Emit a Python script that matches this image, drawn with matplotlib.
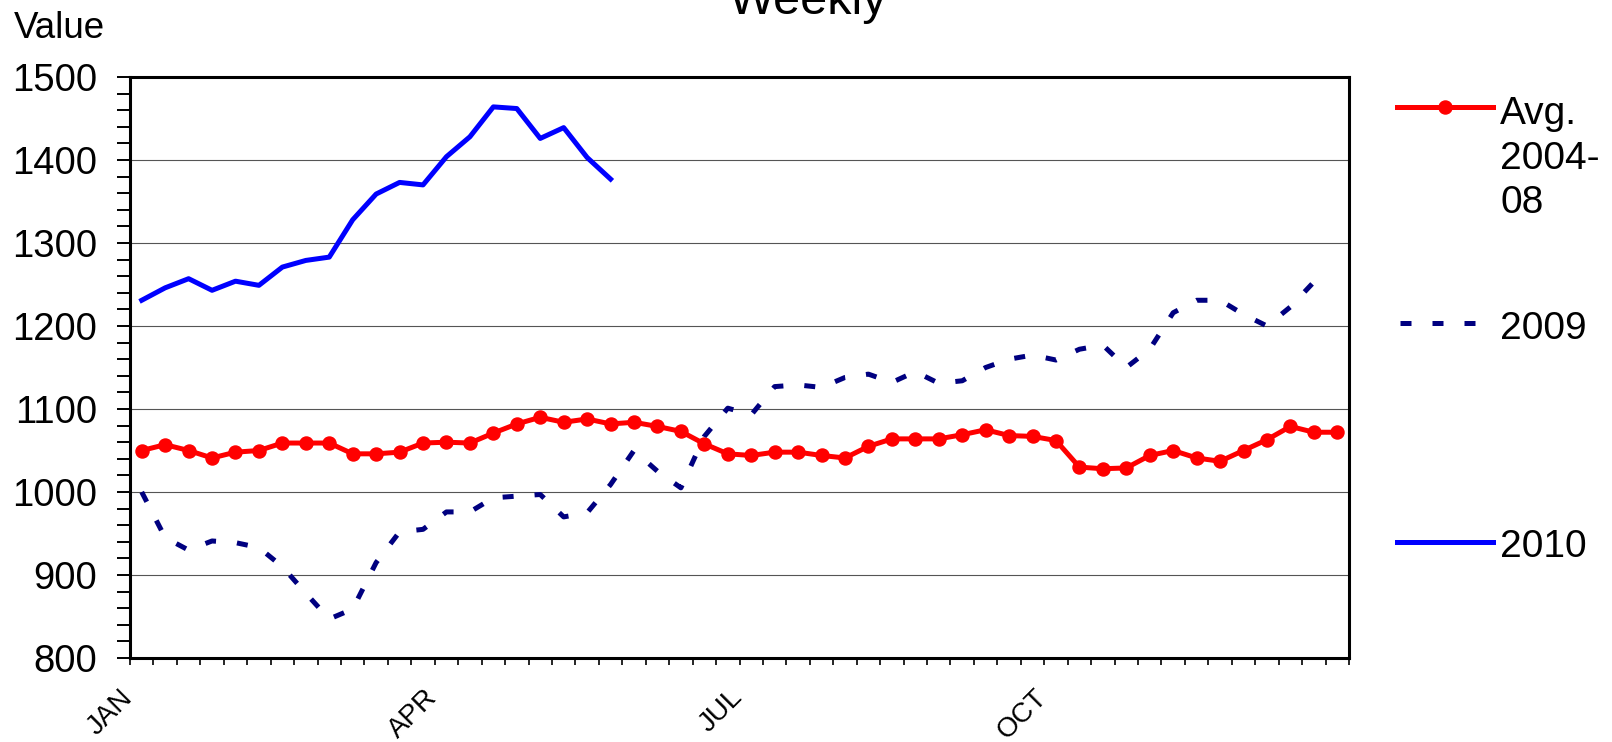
import matplotlib
matplotlib.use("Agg")
import matplotlib.pyplot as plt
import matplotlib.transforms as mtransforms
from matplotlib.lines import Line2D
import numpy as np

plt.rcParams['font.family'] = ['Liberation Sans', 'DejaVu Sans']

# weekly values, week 1..52
avg_0408 = [1050, 1057, 1050, 1041, 1048, 1050, 1059, 1059, 1059, 1046,
            1046, 1048, 1059, 1060, 1059, 1071, 1082, 1090, 1084, 1088,
            1082, 1084, 1079, 1073, 1058, 1046, 1044, 1048, 1048, 1044,
            1041, 1055, 1064, 1064, 1064, 1069, 1075, 1068, 1067, 1062,
            1030, 1028, 1029, 1044, 1050, 1041, 1037, 1050, 1063, 1079,
            1072, 1072]
y2009 = [1000, 945, 930, 941, 939, 933, 910, 878, 847, 859,
         915, 952, 955, 976, 976, 993, 995, 997, 970, 975,
         1009, 1050, 1025, 1005, 1067, 1101, 1093, 1127, 1129, 1126,
         1138, 1142, 1132, 1145, 1131, 1134, 1150, 1160, 1165, 1159,
         1172, 1177, 1150, 1172, 1216, 1231, 1231, 1214, 1200, 1223,
         1253]
y2010 = [1231, 1246, 1257, 1243, 1254, 1249, 1271, 1279, 1283, 1328,
         1359, 1373, 1370, 1404, 1428, 1464, 1462, 1426, 1439, 1403,
         1377]
month_labels = ['JAN', 'APR', 'JUL', 'OCT']
month_weeks = [0, 13, 26, 39]

W, H = 1612, 742
fig = plt.figure(figsize=(W / 100, H / 100), dpi=100)
ax = fig.add_axes([130 / W, 1 - 658 / H, (1349 - 130) / W, (658 - 77) / H])

RED = '#ff0000'
NAVY = '#000080'
BLUE = '#0000ff'
LW = 3.6
DASH = (2.2, 4.2)

ax.plot(np.arange(len(avg_0408)) + 0.5, avg_0408, color=RED, lw=LW,
        marker='o', markersize=9.4, zorder=3)
ax.plot(np.arange(len(y2009)) + 0.5, y2009, color=NAVY, lw=LW,
        dashes=DASH, zorder=4)
ax.plot(np.arange(len(y2010)) + 0.5, y2010, color=BLUE, lw=LW, zorder=5)

ax.set_xlim(0, 52)
ax.set_ylim(800, 1500)

ax.set_yticks(np.arange(800, 1501, 100))
ax.set_yticks(np.arange(800, 1501, 20), minor=True)
ax.tick_params(axis='y', which='both', direction='out', length=9.1,
               width=1.4, labelsize=27.5, pad=14.8)

ax.set_xticks(month_weeks)
ax.set_xticklabels(month_labels, rotation=45, ha='right')
ax.set_xticks(np.arange(0, 53), minor=True)
ax.tick_params(axis='x', which='both', direction='out', length=5,
               width=1.2, labelsize=20, pad=14)
offset = mtransforms.ScaledTranslation(8 / 100, 0, fig.dpi_scale_trans)
for lab in ax.get_xticklabels():
    lab.set_transform(lab.get_transform() + offset)

ax.grid(axis='y', which='major', color='#555555', lw=0.8, zorder=1)
ax.set_axisbelow(True)
for sp in ax.spines.values():
    sp.set_linewidth(2.2)
    sp.set_color('black')

# text
fig.text(808 / W, 1 - 14 / H, 'Weekly', ha='center', va='baseline', fontsize=35)
fig.text(14 / W, 1 - 37.5 / H, 'Value', ha='left', va='baseline', fontsize=26.5)

# legend on the right
def fx(px):
    return px / W

def fy(py):
    return 1 - py / H

fig.add_artist(Line2D([fx(1397), fx(1445), fx(1493)], [fy(106.7)] * 3,
                      transform=fig.transFigure, color=RED, lw=LW,
                      marker='o', markersize=9.4, markevery=[1]))
fig.add_artist(Line2D([fx(1400), fx(1490)], [fy(323)] * 2,
                      transform=fig.transFigure, color=NAVY, lw=LW, dashes=DASH))
fig.add_artist(Line2D([fx(1397), fx(1493)], [fy(542)] * 2,
                      transform=fig.transFigure, color=BLUE, lw=LW))
fig.text(fx(1500), fy(213.3), 'Avg.\n2004-\n08', va='baseline', fontsize=28,
         linespacing=1.3)
fig.text(fx(1500), fy(339.3), '2009', va='baseline', fontsize=28)
fig.text(fx(1500), fy(556.7), '2010', va='baseline', fontsize=28)

fig.savefig('out.png', dpi=100)
